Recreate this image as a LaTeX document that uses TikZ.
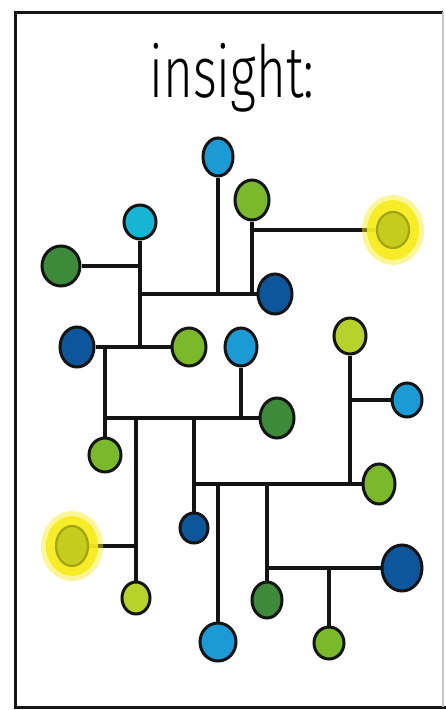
\documentclass[tikz,border=0pt]{standalone}
\usepackage{fontspec}
\newfontfamily\handfont{Fira Sans Light}
\usetikzlibrary{shapes.geometric,backgrounds}
\definecolor{inkline}{HTML}{141414}
\definecolor{skyblue}{HTML}{1B9AD6}
\definecolor{cyanblue}{HTML}{18B4D4}
\definecolor{navyblue}{HTML}{0D569C}
\definecolor{leafgreen}{HTML}{3C8A3A}
\definecolor{limegreen}{HTML}{7BB92C}
\definecolor{pealime}{HTML}{B8D22C}
\definecolor{glowyellow}{HTML}{F6EC1C}
\definecolor{oliveyellow}{HTML}{C6CC1E}
\definecolor{olivedark}{HTML}{A3A316}

\tikzset{
  bead/.style={ellipse,draw=inkline,line width=3pt,inner sep=0pt},
  litbead/.style={ellipse,draw=olivedark,fill=oliveyellow,line width=2.2pt,
    inner sep=0pt},
  wire/.style={draw=inkline,line width=3.4pt},
  glow/.style={fill=glowyellow}
}

\begin{document}
\begin{tikzpicture}[font=\handfont]
  \begin{scope}[x=1pt,y=-1pt]
    \useasboundingbox (0,0) rectangle (446,710);
    \draw[inkline,line width=3pt] (443,12)--(15,12)--(15,707)--(446,707);
    \draw[black!22,line width=2pt] (443,12)--(443,707);

    \node[anchor=base,font=\handfont\fontsize{72}{72}\selectfont] (title)
      at (232,97) {\scalebox{0.71}[1]{insight:}};

    \foreach \n/\x/\y/\c/\w/\h in {
      N1/218/157/skyblue/30/38, N2/252/200/limegreen/34/40,
      N3/140/222/cyanblue/32/34, N5/61/266/leafgreen/38/40,
      N6/275/294/navyblue/34/40, N7/77/347/navyblue/34/40,
      N8/189/347/limegreen/34/38, N9/105/455/limegreen/32/34,
      N10/241/347/skyblue/32/38, N11/277/418/leafgreen/34/40,
      N13/194/528/navyblue/28/30, N14/379/484/limegreen/32/40,
      N15/218/642/skyblue/36/38, N16/267/600/leafgreen/30/36,
      N17/402/568/navyblue/40/46, N18/329/643/limegreen/30/32,
      N19/350/336/pealime/32/36, N20/407/400/skyblue/30/34,
      N21/136/598/pealime/28/32}{
      \node[bead,fill=\c,minimum width=\w,minimum height=\h] (\n) at (\x,\y) {};
    }
    \node[litbead,minimum width=32,minimum height=36] (N4) at (393,230) {};
    \node[litbead,minimum width=32,minimum height=40] (N12) at (72,546) {};

    \foreach \j/\x/\y in {jA/218/294, jB/252/294, jC/140/294, jD/252/230,
      jE/140/347, jF/140/266, jG/105/347, jH/105/418, jI/241/418,
      jJ/136/418, jK/136/546, jL/194/418, jM/194/484, jN/218/484,
      jO/267/484, jP/267/568, jQ/329/568, jR/350/484, jS/350/400}{
      \coordinate (\j) at (\x,\y);
    }

    \begin{scope}[on background layer]
      \draw[wire] (N1)--(jA);
      \draw[wire] (N2)--(jB);
      \draw[wire] (jD)--(N4);
      \draw[wire] (N3)--(jE);
      \draw[wire] (jF)--(N5);
      \draw[wire] (jC)--(N6);
      \draw[wire] (N7)--(N8);
      \draw[wire] (jG)--(N9);
      \draw[wire] (jH)--(N11);
      \draw[wire] (N10)--(jI);
      \draw[wire] (jJ)--(N21);
      \draw[wire] (jK)--(N12);
      \draw[wire] (jL)--(N13);
      \draw[wire] (jM)--(N14);
      \draw[wire] (jN)--(N15);
      \draw[wire] (jO)--(N16);
      \draw[wire] (jP)--(N17);
      \draw[wire] (jQ)--(N18);
      \draw[wire] (N19)--(jR);
      \draw[wire] (jS)--(N20);
      \foreach \g in {N4,N12}{
        \fill[glow,opacity=0.45] (\g) ellipse (31 and 35);
        \fill[glow,opacity=0.9] (\g) ellipse (26 and 30);
      }
    \end{scope}
  \end{scope}
\end{tikzpicture}
\end{document}
